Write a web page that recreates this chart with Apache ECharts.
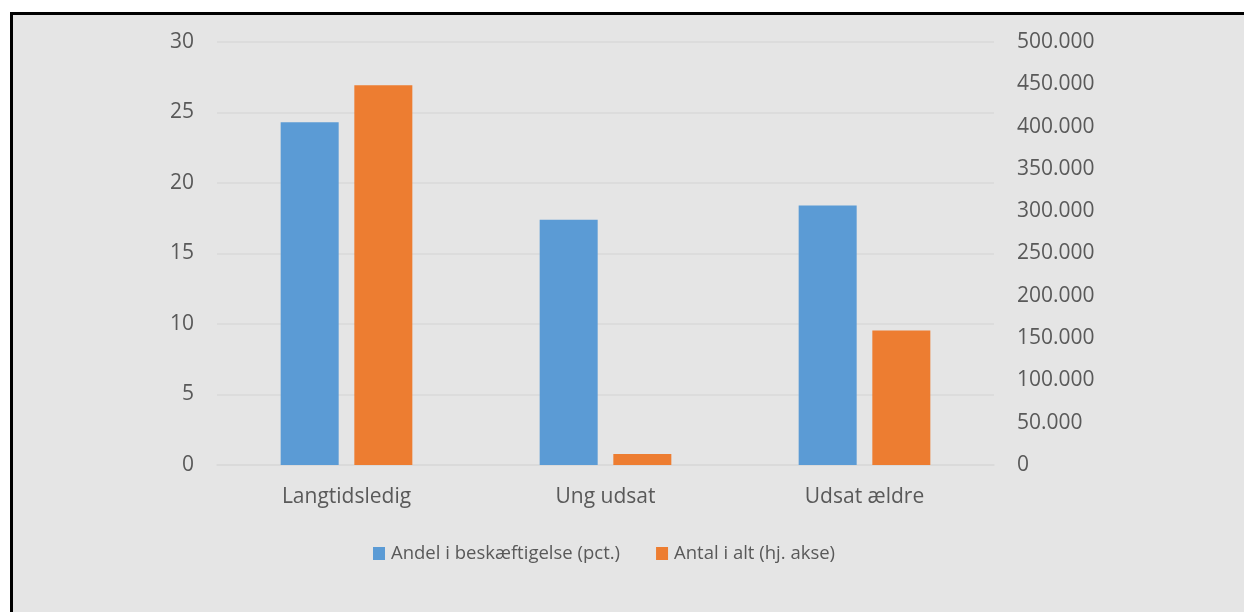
<!DOCTYPE html>
<html>
<head>
<meta charset="utf-8">
<script src="https://cdn.jsdelivr.net/npm/echarts@6/dist/echarts.min.js"></script>
<style>
  html, body { margin: 0; padding: 0; background: #fff; overflow: hidden; }
  .frame {
    position: absolute; left: 10px; top: 12px; width: 1300px; height: 700px;
    border-left: 3px solid #000; border-top: 3px solid #000;
    background: #e5e5e5;
  }
  #chart { position: absolute; left: 0; top: 0; width: 1244px; height: 612px; }
</style>
</head>
<body>
<div class="frame"></div>
<div id="chart"></div>
<script>
// kategorier og værdier
var categories = ['Langtidsledig', 'Ung udsat', 'Udsat ældre']
var andelBeskaeftigelse = [24.3, 17.4, 18.4]
var antalIAlt = [449000, 13000, 159000]
var leftTicks = { min: 0, max: 30, interval: 5 }
var rightTicks = { min: 0, max: 500000, interval: 50000 }

var textColor = '#595959'
var fontFamily = '"Open Sans", sans-serif'

function fmtThousands(v) {
  return String(v).replace(/\B(?=(\d{3})+(?!\d))/g, '.')
}

var myChart = echarts.init(document.getElementById('chart'))
var option = {
  backgroundColor: 'transparent',
  animation: false,
  textStyle: { fontFamily: fontFamily },
  grid: { left: 217, right: 250, top: 42, bottom: 147 },
  legend: {
    data: ['Andel i beskæftigelse (pct.)', 'Antal i alt (hj. akse)'],
    left: 368,
    top: 539,
    itemWidth: 12,
    itemHeight: 13,
    itemGap: 36,
    icon: 'rect',
    textStyle: { color: textColor, fontSize: 18.5, fontFamily: fontFamily, padding: [0, 0, 0, 1] }
  },
  xAxis: {
    type: 'category',
    data: categories,
    axisLine: { lineStyle: { color: '#d9d9d9', width: 1.5 } },
    axisTick: { show: false },
    axisLabel: { color: textColor, fontSize: 21, margin: 22 }
  },
  yAxis: [
    {
      type: 'value',
      min: leftTicks.min,
      max: leftTicks.max,
      interval: leftTicks.interval,
      axisLine: { show: false },
      axisTick: { show: false },
      axisLabel: { color: textColor, fontSize: 21, margin: 23 },
      splitLine: { lineStyle: { color: '#d9d9d9', width: 1.5 } }
    },
    {
      type: 'value',
      min: rightTicks.min,
      max: rightTicks.max,
      interval: rightTicks.interval,
      axisLine: { show: false },
      axisTick: { show: false },
      axisLabel: { color: textColor, fontSize: 21, margin: 23, formatter: fmtThousands },
      splitLine: { show: false }
    }
  ],
  series: [
    {
      name: 'Andel i beskæftigelse (pct.)',
      type: 'bar',
      yAxisIndex: 0,
      data: andelBeskaeftigelse,
      barWidth: 58,
      barGap: '27%',
      itemStyle: { color: '#5b9bd5' }
    },
    {
      name: 'Antal i alt (hj. akse)',
      type: 'bar',
      yAxisIndex: 1,
      data: antalIAlt,
      barWidth: 58,
      barGap: '27%',
      itemStyle: { color: '#ed7d31' }
    }
  ]
}
myChart.setOption(option)
</script>
</body>
</html>
